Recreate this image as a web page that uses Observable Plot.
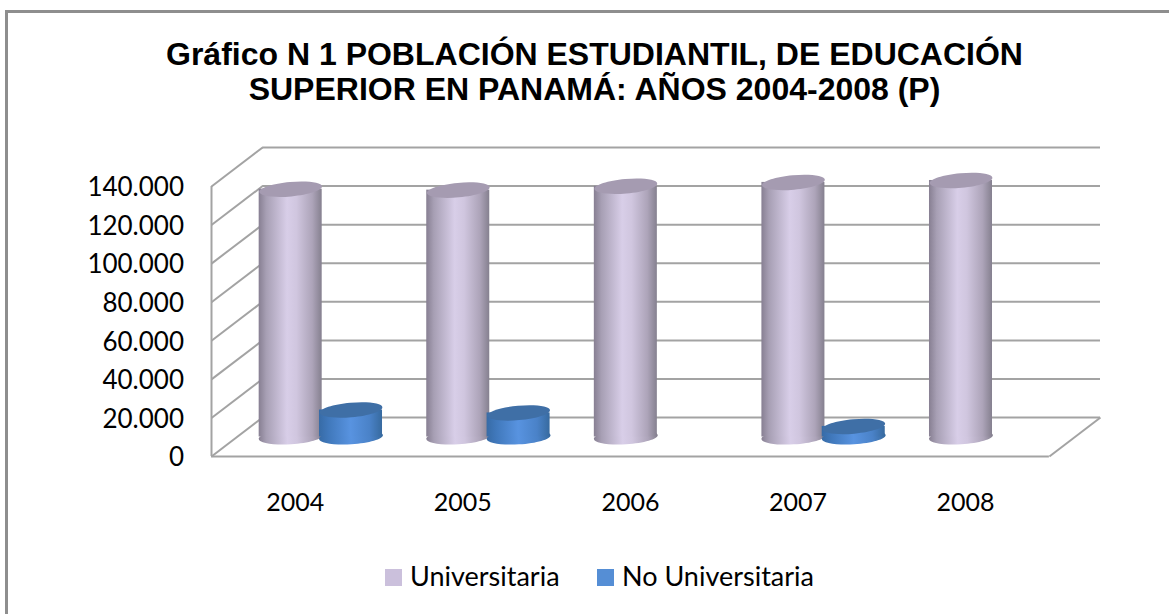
<!DOCTYPE html>
<html><head><meta charset="utf-8">
<script src="https://cdn.jsdelivr.net/npm/d3@7"></script>
<script src="https://cdn.jsdelivr.net/npm/@observablehq/plot@0.6"></script>
<style>
html,body{margin:0;padding:0;background:#fff}
#page{position:relative;width:1169px;height:614px;overflow:hidden;background:#fff}
#frame{position:absolute;left:5px;top:10px;width:1200px;height:640px;border:3px solid #8e8e8e;box-sizing:border-box}
#title{position:absolute;left:0;top:37px;width:1189px;text-align:center;font:bold 32px/35px "Liberation Sans",Arial,sans-serif;color:#000}
#chart{position:absolute;left:0;top:130px}
#legend{position:absolute;top:561px;left:0;width:1169px;height:30px;font:27px/30px Lato,sans-serif;color:#000}
#legend i{position:absolute;top:8px;width:17px;height:17px}
#legend span{position:absolute;top:0;white-space:nowrap}
</style></head><body>
<div id="page">
<div id="frame"></div>
<div id="title">Gráfico N 1 POBLACIÓN ESTUDIANTIL, DE EDUCACIÓN<br>SUPERIOR EN PANAMÁ: AÑOS 2004-2008 (P)</div>
<div id="chart"></div>
<div id="legend">
<i style="left:385px;background:#cbc0dc"></i><span style="left:410px">Universitaria</span>
<i style="left:597px;background:#558ed5"></i><span style="left:622px">No Universitaria</span>
</div>
</div>
<script>
const years = [2004, 2005, 2006, 2007, 2008];
const universitaria = [128500, 128000, 130000, 132000, 133000];
const noUniversitaria = [14000, 12500, null, 5500, null];
const yTicks = [0, 20000, 40000, 60000, 80000, 100000, 120000, 140000];

// Oblique projection of the 3D box, in scale units
const depthX = 0.305, depthY = 20200, nCat = years.length, yMax = 140000;
const halfW = 0.188, groupOff = 0.18;

const uni = years.map((yr, i) => ({i, value: universitaria[i]}));
const noUni = years.map((yr, i) => ({i, value: noUniversitaria[i]})).filter(d => d.value != null);
const cx = (i, off) => i + 0.5 + off + depthX / 2;

// Tilted ellipse as a custom dot symbol
const ellipse = (ratio, tilt) => ({
  draw(ctx, size) {
    const rx = Math.sqrt(size / Math.PI), ry = rx * ratio, k = 0.5523;
    const c = Math.cos(tilt), s = Math.sin(tilt);
    const P = (u, v) => [u * c - v * s, u * s + v * c];
    const pts = [
      [[rx, k*ry],[k*rx, ry],[0, ry]],
      [[-k*rx, ry],[-rx, k*ry],[-rx, 0]],
      [[-rx, -k*ry],[-k*rx, -ry],[0, -ry]],
      [[k*rx, -ry],[rx, -k*ry],[rx, 0]]
    ];
    ctx.moveTo(...P(rx, 0));
    for (const [a, b, e] of pts) ctx.bezierCurveTo(...P(...a), ...P(...b), ...P(...e));
    ctx.closePath();
  }
});
const topCap = ellipse(0.23, -0.09);
const bottomCap = ellipse(0.23, -0.06);

const defs = () => {
  const d = d3.create("svg:defs");
  const grad = (id, stops) => {
    const g = d.append("linearGradient").attr("id", id);
    stops.forEach(([o, c]) => g.append("stop").attr("offset", o).attr("stop-color", c));
  };
  grad("gUni", [[0,"#877f92"],[0.12,"#a79fb4"],[0.45,"#d8cee8"],[0.6,"#d0c6df"],[0.85,"#ada4b9"],[1,"#85808f"]]);
  grad("gNo", [[0,"#376ba6"],[0.15,"#4078bb"],[0.5,"#5893e0"],[0.8,"#4a82c8"],[1,"#376a9f"]]);
  return d.node();
};

function cylinders(data, off, gradient, top) {
  return [
    Plot.dot(data, {x: d => cx(d.i, off), y: depthY / 2, r: 32, symbol: bottomCap, fill: `url(#${gradient})`, stroke: "none"}),
    Plot.rectY(data, {x1: d => cx(d.i, off) - halfW, x2: d => cx(d.i, off) + halfW, y1: depthY / 2, y2: d => d.value + depthY / 2, fill: `url(#${gradient})`, inset: 0}),
    Plot.dot(data, {x: d => cx(d.i, off), y: d => d.value + depthY / 2, r: 31.5, symbol: topCap, fill: top, stroke: "none"})
  ];
}

const grid = {stroke: "#a3a3a3", strokeWidth: 2};
const chart = Plot.plot({
  width: 1169, height: 400,
  marginLeft: 211, marginRight: 69, marginTop: 17, marginBottom: 74,
  style: {background: "transparent", overflow: "visible"},
  x: {type: "linear", domain: [0, nCat + depthX]},
  y: {domain: [0, yMax + depthY]},
  marks: [
    defs,
    // back wall
    Plot.ruleY(yTicks, {y: d => d + depthY, x1: depthX, x2: nCat + depthX, ...grid}),
    // side wall
    Plot.link(yTicks, {x1: 0, y1: d => d, x2: depthX, y2: d => d + depthY, ...grid}),
    Plot.ruleX([0], {y1: 0, y2: yMax, ...grid}),
    // floor front and right edges
    Plot.ruleY([0], {x1: 0, x2: nCat, ...grid}),
    Plot.link([0], {x1: nCat, y1: 0, x2: nCat + depthX, y2: depthY, ...grid}),
    ...cylinders(uni, -groupOff, "gUni", "#a59bb1"),
    ...cylinders(noUni, groupOff, "gNo", "#3f6fa6"),
    Plot.axisY({ticks: yTicks, tickSize: 0, tickPadding: 27.5, dy: 1.5, label: null, fontSize: 26, fontFamily: "Lato",
      tickFormat: d => d3.format(",")(d).replace(/,/g, ".")}),
    Plot.axisX({ticks: years.map((y, i) => i + 0.5), tickSize: 0, tickPadding: 37, label: null, fontSize: 25, fontFamily: "Lato",
      tickFormat: (d) => String(years[d - 0.5])})
  ]
});
document.getElementById("chart").appendChild(chart);
</script>
</body></html>
